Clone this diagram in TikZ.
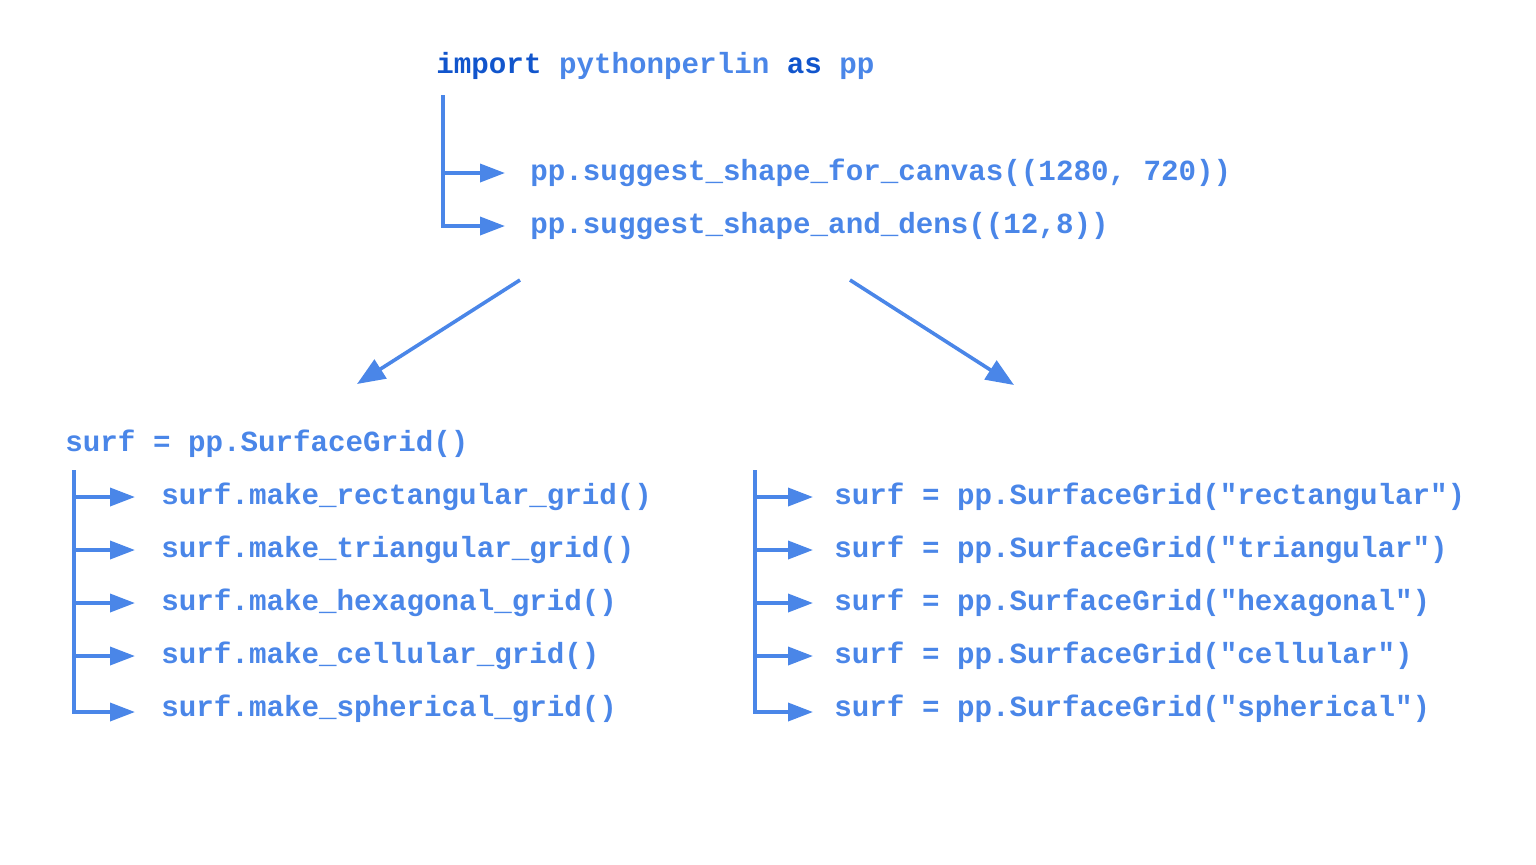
\documentclass[tikz,border=0pt]{standalone}
\usepackage{fontspec}
\setmonofont{Liberation Mono}
\usetikzlibrary{arrows.meta}
\definecolor{lb}{HTML}{4A86E8}
\definecolor{db}{HTML}{1155CC}
\begin{document}
\begin{tikzpicture}[x=0.5pt,y=-0.5pt,
 code/.style={anchor=west,inner sep=0pt,text=lb,font=\ttfamily\bfseries\fontsize{14.6}{17.5}\selectfont},
 ln/.style={draw=lb,line width=1.8pt},
 arr/.style={ln,-{Triangle[length=12.5pt,width=9pt]}},
 bigarr/.style={ln,-{Triangle[length=14pt,width=11pt]}},
 ]
\useasboundingbox (0,0) rectangle (1536,864);
% top block
\node[code] (imp) at (436,66) {\strut\textcolor{db}{import} pythonperlin \textcolor{db}{as} pp};
\node[code] (s1) at (530,173) {\strut pp.suggest\_shape\_for\_canvas((1280, 720))};
\node[code] (s2) at (530,226) {\strut pp.suggest\_shape\_and\_dens((12,8))};
\coordinate (t0) at (443,95);
\draw[arr] (t0) |- ([xshift=-12.5pt]s2.west);
\draw[arr] (t0 |- s1.west) -- ([xshift=-12.5pt]s1.west);
% diagonal arrows
\coordinate (d1s) at (520,280);
\coordinate (d1e) at (357,384);
\coordinate (d2s) at (850,280);
\coordinate (d2e) at (1014,385);
\draw[bigarr] (d1s) -- (d1e);
\draw[bigarr] (d2s) -- (d2e);
% left block
\node[code] (g0) at (65,444) {\strut surf = pp.SurfaceGrid()};
\coordinate (lt) at (74,470);
\node[code] (l1) at (161,497) {\strut surf.make\_rectangular\_grid()};
\node[code] (l2) at (161,550) {\strut surf.make\_triangular\_grid()};
\node[code] (l3) at (161,603) {\strut surf.make\_hexagonal\_grid()};
\node[code] (l4) at (161,656) {\strut surf.make\_cellular\_grid()};
\node[code] (l5) at (161,709) {\strut surf.make\_spherical\_grid()};
\draw[arr] (lt) |- ([xshift=-13pt,yshift=-1.5pt]l5.west);
\foreach \n in {l1,l2,l3,l4}
  \draw[arr] (lt |- \n.west) -- ([xshift=-13pt]\n.west);
% right block
\coordinate (rt) at (755,470);
\node[code] (r1) at (834,497) {\strut surf = pp.SurfaceGrid("rectangular")};
\node[code] (r2) at (834,550) {\strut surf = pp.SurfaceGrid("triangular")};
\node[code] (r3) at (834,603) {\strut surf = pp.SurfaceGrid("hexagonal")};
\node[code] (r4) at (834,656) {\strut surf = pp.SurfaceGrid("cellular")};
\node[code] (r5) at (834,709) {\strut surf = pp.SurfaceGrid("spherical")};
\draw[arr] (rt) |- ([xshift=-10.5pt,yshift=-1.5pt]r5.west);
\foreach \n in {r1,r2,r3,r4}
  \draw[arr] (rt |- \n.west) -- ([xshift=-10.5pt]\n.west);
\end{tikzpicture}
\end{document}
